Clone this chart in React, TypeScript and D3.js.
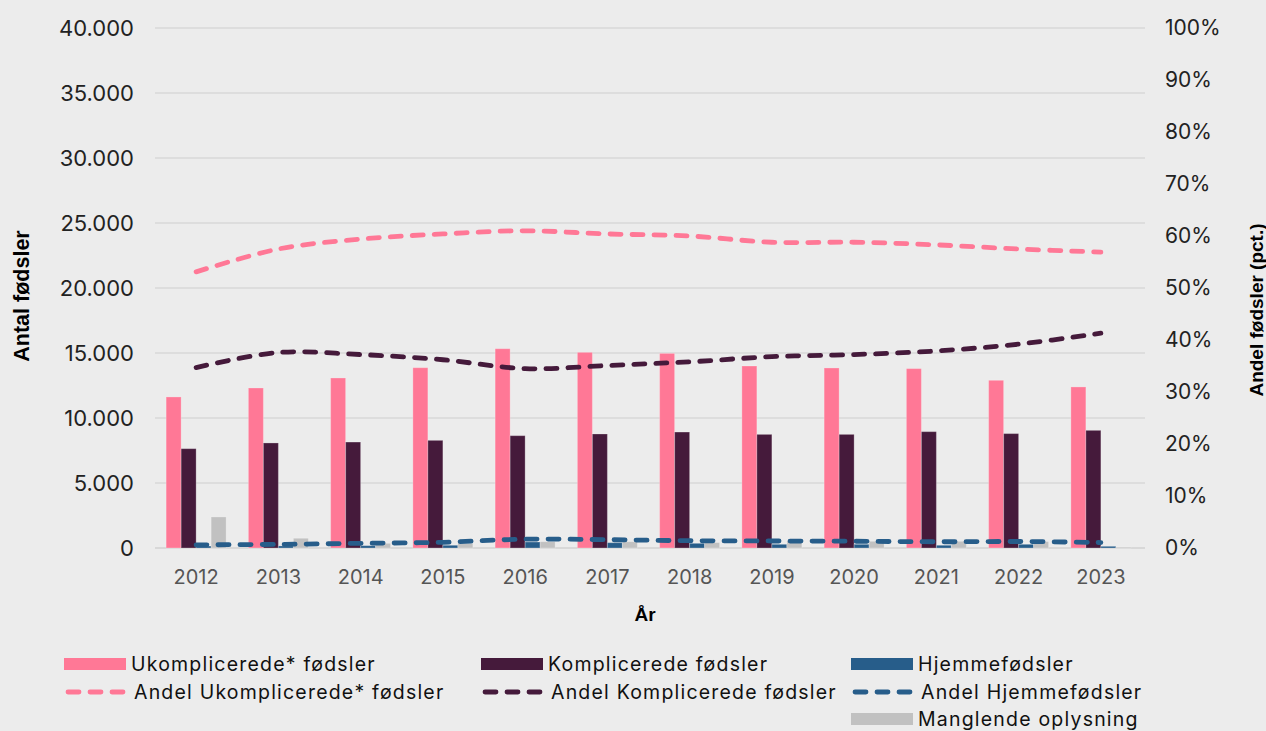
import React from "react";
import * as d3 from "d3";

const years = ["2012", "2013", "2014", "2015", "2016", "2017", "2018", "2019", "2020", "2021", "2022", "2023"];

// antal fødsler
const ukomplicerede = [11620, 12310, 13080, 13870, 15330, 15050, 14970, 14000, 13850, 13800, 12900, 12390];
const komplicerede = [7640, 8080, 8150, 8280, 8640, 8770, 8920, 8740, 8740, 8950, 8800, 9050];
const hjemme = [150, 160, 180, 210, 460, 410, 360, 285, 285, 210, 285, 130];
const manglende = [2390, 750, 360, 350, 485, 485, 420, 540, 515, 515, 500, 60];

// andele (pct.)
const andelUkompl = [53.1, 57.5, 59.4, 60.4, 61.0, 60.4, 60.0, 58.8, 58.8, 58.3, 57.5, 56.9];
const andelKompl = [34.7, 37.6, 37.2, 36.2, 34.5, 35.1, 35.8, 36.8, 37.2, 37.9, 39.2, 41.3];
const andelHjemme = [0.6, 0.7, 0.9, 1.1, 1.7, 1.6, 1.4, 1.35, 1.3, 1.2, 1.25, 1.05];

const leftTicks = [0, 5000, 10000, 15000, 20000, 25000, 30000, 35000, 40000];
const rightTicks = [0, 10, 20, 30, 40, 50, 60, 70, 80, 90, 100];

const PINK = "#ff7896";
const PLUM = "#451a3b";
const BLUE = "#275d8a";
const GREY = "#c1c1c1";

const W = 1266;
const H = 731;
const left = 155;
const right = 1142;
const top = 28;
const bottom = 548;

const fmt = (v: number) => (v === 0 ? "0" : d3.format(",")(v).replace(/,/g, "."));

export default function App() {
  const x = d3.scaleBand<string>().domain(years).range([left, right]).padding(0);
  const series = [
    { key: "u", values: ukomplicerede, color: PINK },
    { key: "k", values: komplicerede, color: PLUM },
    { key: "h", values: hjemme, color: BLUE },
    { key: "m", values: manglende, color: GREY },
  ];
  const inner = (x.bandwidth() - 60) / 2;
  const xs = d3.scaleBand<string>().domain(series.map((s) => s.key)).range([inner, inner + 60]).padding(0);
  const y = d3.scaleLinear().domain([0, 40000]).range([bottom, top]);
  const y2 = d3.scaleLinear().domain([0, 100]).range([bottom, top]);

  const line = d3
    .line<number>()
    .x((_, i) => (x(years[i]) as number) + x.bandwidth() / 2)
    .y((d) => y2(d))
    .curve(d3.curveCatmullRom.alpha(0.5));

  const lines = [
    { values: andelUkompl, color: PINK },
    { values: andelKompl, color: PLUM },
    { values: andelHjemme, color: BLUE },
  ];

  const font = "Inter, 'Noto Sans', sans-serif";
  const legendFont = "Inter, 'Noto Sans', sans-serif";
  const boldFont = "'Liberation Sans', Arial, sans-serif";

  const legendRows = [
    { x: 64, y: 664, kind: "rect", color: PINK, label: "Ukomplicerede* fødsler" },
    { x: 481, y: 664, kind: "rect", color: PLUM, label: "Komplicerede fødsler" },
    { x: 851, y: 664, kind: "rect", color: BLUE, label: "Hjemmefødsler" },
    { x: 64, y: 692, kind: "dash", color: PINK, label: "Andel Ukomplicerede* fødsler" },
    { x: 481, y: 692, kind: "dash", color: PLUM, label: "Andel Komplicerede fødsler" },
    { x: 851, y: 692, kind: "dash", color: BLUE, label: "Andel Hjemmefødsler" },
    { x: 851, y: 719, kind: "rect", color: GREY, label: "Manglende oplysning" },
  ];

  return (
    <div style={{ position: "fixed", left: 0, top: 0 }}>
      <svg width={W} height={H} style={{ display: "block", background: "#ececec" }}>
        {/* gridlines */}
        {leftTicks.map((t) => (
          <line key={t} x1={left} x2={1145} y1={y(t)} y2={y(t)} stroke={t === 0 ? "#d2d2d2" : "#d9d9d9"} strokeWidth={1.5} />
        ))}
        {/* left axis labels */}
        {leftTicks.map((t) => (
          <text key={"l" + t} x={134} y={y(t)} dy="0.35em" textAnchor="end" fontFamily={font} fontSize={22} fill="#222">
            {fmt(t)}
          </text>
        ))}
        {/* right axis labels */}
        {rightTicks.map((t) => (
          <text key={"r" + t} x={1165} y={y2(t)} dy="0.35em" textAnchor="start" fontFamily={font} fontSize={21} fill="#222">
            {t + "%"}
          </text>
        ))}
        {/* x labels */}
        {years.map((yr) => (
          <text key={yr} x={(x(yr) as number) + x.bandwidth() / 2} y={577} dy="0.35em" textAnchor="middle" fontFamily={font} fontSize={20} fill="#555">
            {yr}
          </text>
        ))}
        {/* bars */}
        {series.map((s) =>
          s.values.map((v, i) => (
            <rect
              key={s.key + i}
              x={(x(years[i]) as number) + (xs(s.key) as number)}
              y={y(v)}
              width={xs.bandwidth()}
              height={bottom - y(v)}
              fill={s.color}
              stroke="#ffffff"
              strokeOpacity={0.25}
              strokeWidth={1}
            />
          ))
        )}
        {/* lines */}
        {lines.map((l, i) => (
          <path
            key={"line" + i}
            d={line(l.values) || ""}
            fill="none"
            stroke={l.color}
            strokeWidth={4.8}
            strokeDasharray="11,11"
            strokeLinecap="round"
          />
        ))}
        {/* axis titles */}
        <text x={645} y={614} dy="0.35em" textAnchor="middle" fontFamily={boldFont} fontWeight="bold" fontSize={19} fill="#000">
          År
        </text>
        <text
          transform={`translate(21,296) rotate(-90)`}
          dy="0.35em"
          textAnchor="middle"
          fontFamily={boldFont}
          fontWeight="bold"
          fontSize={21.5}
          fill="#000"
        >
          Antal fødsler
        </text>
        <text
          transform={`translate(1256,310) rotate(-90)`}
          dy="0.35em"
          textAnchor="middle"
          fontFamily={boldFont}
          fontWeight="bold"
          fontSize={19}
          fill="#000"
        >
          Andel fødsler (pct.)
        </text>
        {/* legend */}
        {legendRows.map((r) => (
          <g key={r.label}>
            {r.kind === "rect" ? (
              <rect x={r.x} y={r.y - 6} width={62} height={12} fill={r.color} />
            ) : (
              <line
                x1={r.x + 4}
                x2={r.x + 60}
                y1={r.y}
                y2={r.y}
                stroke={r.color}
                strokeWidth={4.8}
                strokeDasharray="11,11"
                strokeLinecap="round"
              />
            )}
            <text
              x={r.x + (r.kind === "rect" ? 67 : 70)}
              y={r.y}
              dy="0.35em"
              fontFamily={legendFont}
              fontSize={19.5}
              letterSpacing={1.2}
              fill="#111"
            >
              {r.label}
            </text>
          </g>
        ))}
      </svg>
    </div>
  );
}
